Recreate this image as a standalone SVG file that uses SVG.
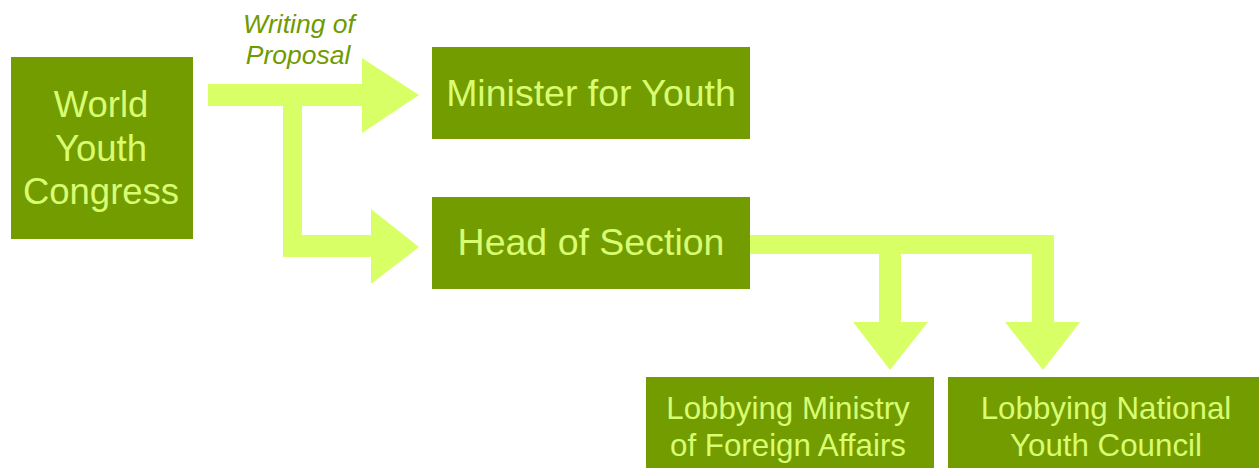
<svg xmlns="http://www.w3.org/2000/svg" width="1259" height="468" viewBox="0 0 1259 468">
<style>
.box{fill:#739c00}
.lbl{font-family:"Liberation Sans",Arial,sans-serif;fill:#d8fc72;text-anchor:middle}
.arrow{fill:#d9ff66}
.note{font-family:"Liberation Sans",Arial,sans-serif;font-style:italic;fill:#6f9a00;text-anchor:middle;font-size:26.5px}
</style>
<rect width="1259" height="468" fill="#ffffff"/>
<g id="connectors">
<polygon class="arrow" points="208,84 362,84 362,58 419,95 362,133 362,106 302,106 302,235 371,235 371,209 419,247 371,284 371,257 283,257 283,106 208,106"/>
<polygon class="arrow" points="750,235 1054,235 1054,322 1080,322 1043,370 1005,322 1032,322 1032,254 901,254 901,322 928,322 890,370 853,322 879,322 879,254 750,254"/>
<text class="note"><tspan x="299" y="33">Writing of</tspan><tspan x="298" y="64">Proposal</tspan></text>
</g>
<g id="world-youth-congress">
<rect class="box" x="11" y="57" width="182" height="182"/>
<text class="lbl" font-size="36.5"><tspan x="101" y="117">World</tspan><tspan x="101" y="161">Youth</tspan><tspan x="101" y="204">Congress</tspan></text>
</g>
<g id="minister-for-youth">
<rect class="box" x="432" y="47" width="318" height="92"/>
<text class="lbl" font-size="37.5" x="591" y="106">Minister for Youth</text>
</g>
<g id="head-of-section">
<rect class="box" x="432" y="197" width="318" height="92"/>
<text class="lbl" font-size="37.5" x="591" y="255">Head of Section</text>
</g>
<g id="lobbying-ministry">
<rect class="box" x="646" y="377" width="288" height="91"/>
<text class="lbl" font-size="31.3"><tspan x="788" y="419">Lobbying Ministry</tspan><tspan x="788" y="456">of Foreign Affairs</tspan></text>
</g>
<g id="lobbying-council">
<rect class="box" x="948" y="377" width="311" height="91"/>
<text class="lbl" font-size="31.3"><tspan x="1106" y="419">Lobbying National</tspan><tspan x="1106" y="456">Youth Council</tspan></text>
</g>
</svg>
